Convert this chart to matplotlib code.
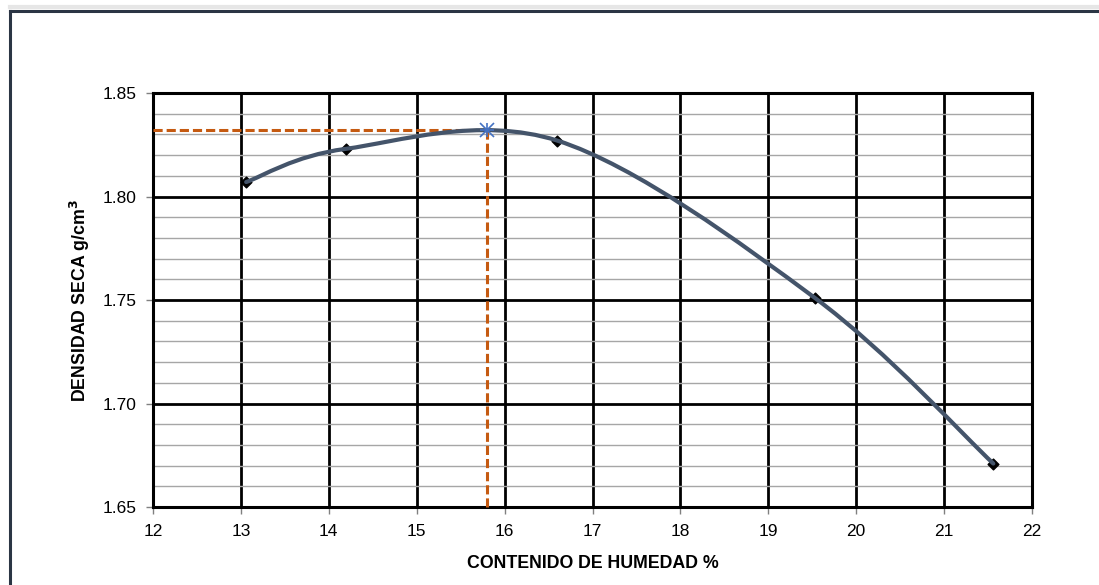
import matplotlib
matplotlib.use("Agg")
import matplotlib.pyplot as plt
from matplotlib.path import Path
from matplotlib.patches import PathPatch
from matplotlib.lines import Line2D
from matplotlib.ticker import MultipleLocator

plt.rcParams['font.family'] = ['Liberation Sans', 'DejaVu Sans']

# Data
moisture = [13.06, 14.19, 16.60, 19.53, 21.56]      # %
density = [1.807, 1.823, 1.827, 1.751, 1.671]        # g/cm3
omc = 15.80     # optimum moisture content
mdd = 1.832     # max dry density

x_ticks = [12, 13, 14, 15, 16, 17, 18, 19, 20, 21, 22]
y_ticks = [1.65, 1.70, 1.75, 1.80, 1.85]
y_tick_labels = ["1.65", "1.70", "1.75", "1.80", "1.85"]

fig = plt.figure(figsize=(10.99, 5.85), dpi=100)
ax = fig.add_axes([153/1099, 1 - 507/585, (1032-153)/1099, (507-93)/585])

ax.set_xlim(12, 22)
ax.set_ylim(1.65, 1.85)
ax.set_xticks(x_ticks)
ax.set_yticks(y_ticks)
ax.set_yticklabels(y_tick_labels)
ax.yaxis.set_minor_locator(MultipleLocator(0.01))

ax.grid(True, which='major', axis='both', color='black', linewidth=2.0, zorder=1)
ax.grid(True, which='minor', axis='y', color='#A6A6A6', linewidth=1.0, zorder=0.5)
ax.set_axisbelow(True)
for s in ax.spines.values():
    s.set_linewidth(2.2)
    s.set_color('black')

ax.tick_params(axis='both', which='major', direction='out', length=5, width=1,
               color='#808080', labelsize=12.5, pad=7)
ax.tick_params(axis='y', which='minor', length=0)

ax.set_xlabel("CONTENIDO DE HUMEDAD %", fontsize=12.8, fontweight='bold')
ax.set_ylabel("DENSIDAD SECA g/cm$^{\\mathbf{3}}$", fontsize=12.8, fontweight='bold')
ax.xaxis.set_label_coords(0.5, -(564 - 507) / 414, transform=ax.transAxes)
ax.yaxis.set_label_coords(-(153 - 80) / 879, 0.5, transform=ax.transAxes)
ax.xaxis.label.set_va('center')
ax.yaxis.label.set_va('center')

# Orange dashed reference lines
orange = '#C55A11'
ax.plot([12, omc], [mdd, mdd], linestyle=(0, (3.0, 1.3)), color=orange, linewidth=2.2, zorder=3)
ax.plot([omc, omc], [mdd, 1.65], linestyle=(0, (3.0, 1.3)), color=orange, linewidth=2.2, zorder=3,
        clip_on=False)

# Markers (below the curve)
ax.scatter(moisture, density, marker='D', s=30, color='black', zorder=4)

# Smooth curve through the measured points (Excel style Bezier smoothing)
pts = list(zip(moisture, density))
verts = [pts[0]]
codes = [Path.MOVETO]
n = len(pts)
for i in range(n - 1):
    p0 = pts[i - 1] if i > 0 else pts[i]
    p1 = pts[i]
    p2 = pts[i + 1]
    p3 = pts[i + 2] if i + 2 < n else pts[i + 1]
    c1 = (p1[0] + (p2[0] - p0[0]) / 6, p1[1] + (p2[1] - p0[1]) / 6)
    c2 = (p2[0] - (p3[0] - p1[0]) / 6, p2[1] - (p3[1] - p1[1]) / 6)
    verts += [c1, c2, p2]
    codes += [Path.CURVE4] * 3
curve = PathPatch(Path(verts, codes), facecolor='none', edgecolor='#44546A',
                  linewidth=3.0, zorder=5, capstyle='round')
ax.add_patch(curve)

# Peak star marker
ax.plot([omc], [mdd], marker='x', markersize=10, color='#4472C4', mew=1.2, zorder=6)
ax.plot([omc], [mdd], marker='+', markersize=10, color='#4472C4', mew=1.2, zorder=6)

# Outer chart border (left and top visible)
fig.add_artist(Line2D([9.5/1099, 9.5/1099], [0, 1 - 10.5/585], color='#2B3544', linewidth=2.2,
                      transform=fig.transFigure))
fig.add_artist(Line2D([9.5/1099, 1], [1 - 10.5/585, 1 - 10.5/585], color='#2B3544', linewidth=2.2,
                      transform=fig.transFigure))
fig.add_artist(Line2D([9.5/1099, 1], [1 - 7/585, 1 - 7/585], color='#E6E6E6', linewidth=3,
                      transform=fig.transFigure, zorder=0))

fig.savefig("out.png", dpi=100)
